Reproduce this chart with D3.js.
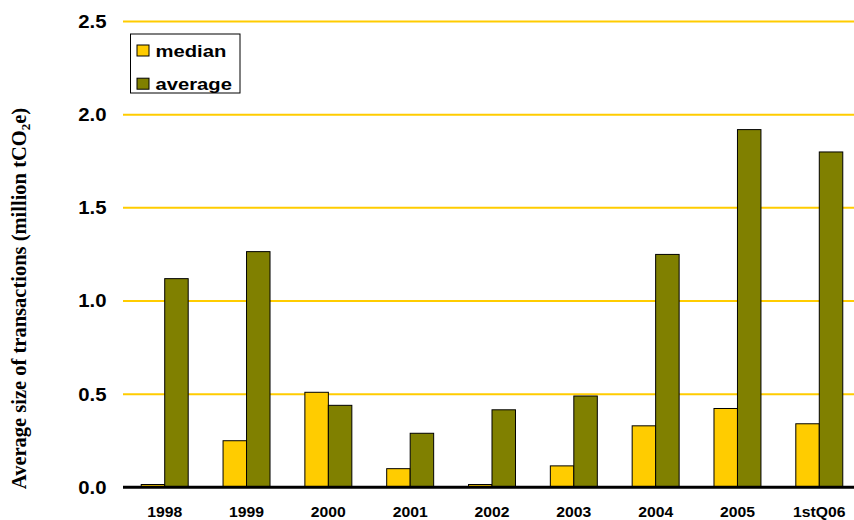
<!DOCTYPE html>
<html><head><meta charset="utf-8">
<script src="https://cdn.jsdelivr.net/npm/d3@7"></script>
<style>body{margin:0;background:#fff}svg{display:block}</style>
</head><body>
<svg id="c" width="854" height="520"></svg>
<script>
const categories = ["1998","1999","2000","2001","2002","2003","2004","2005","1stQ06"];
const medianValues = [0.015,0.25,0.51,0.10,0.015,0.115,0.33,0.423,0.341];
const averageValues = [1.12,1.265,0.44,0.29,0.416,0.49,1.25,1.92,1.80];
const seriesNames = ["median","average"];
const seriesColors = ["#FFCC00","#808000"];
const yTicks = [0,0.5,1.0,1.5,2.0,2.5];

const svg = d3.select("#c");
const x0 = d3.scaleBand().domain(categories).range([123.8,860.2]).padding(0);
const x1 = d3.scaleBand().domain(seriesNames).range([x0.bandwidth()*0.213, x0.bandwidth()*0.787]).padding(0);
const y = d3.scaleLinear().domain([0,2.5]).range([487.3,21.55]);

// gridlines
svg.append("g").selectAll("line").data(yTicks.filter(d=>d>0)).join("line")
  .attr("x1",123).attr("x2",854).attr("y1",d=>y(d)).attr("y2",d=>y(d))
  .attr("stroke","#FFCC00").attr("stroke-width",2);

// y tick labels
svg.append("g").selectAll("text").data(yTicks).join("text")
  .attr("transform",d=>`translate(106.5,${y(d)}) scale(1.1,1)`)
  .attr("dy","0.35em").attr("text-anchor","end")
  .attr("font-family","Liberation Sans, Arial, sans-serif").attr("font-weight","bold")
  .attr("font-size",18.5).text(d=>d3.format(".1f")(d));

// bars
const data = categories.map((c,i)=>({cat:c, vals:[medianValues[i],averageValues[i]]}));
const groups = svg.append("g").selectAll("g").data(data).join("g")
  .attr("transform",d=>`translate(${x0(d.cat)},0)`);
groups.selectAll("rect").data(d=>d.vals.map((v,j)=>({s:seriesNames[j],v,j}))).join("rect")
  .attr("x",d=>x1(d.s)).attr("width",x1.bandwidth())
  .attr("y",d=>y(d.v)).attr("height",d=>y(0)-y(d.v))
  .attr("fill",d=>seriesColors[d.j]).attr("stroke","#000").attr("stroke-width",1);

// x axis line
svg.append("line").attr("x1",123).attr("x2",854).attr("y1",y(0)).attr("y2",y(0))
  .attr("stroke","#000").attr("stroke-width",3);

// x labels
svg.append("g").selectAll("text").data(categories).join("text")
  .attr("transform",d=>`translate(${x0(d)+x0.bandwidth()/2},516.5) scale(1.05,1)`)
  .attr("text-anchor","middle")
  .attr("font-family","Liberation Sans, Arial, sans-serif").attr("font-weight","bold")
  .attr("font-size",15).text(d=>d);

// y title
const yt = svg.append("text").attr("transform","translate(26,298.5) rotate(-90)")
  .attr("text-anchor","middle").attr("font-family","Liberation Serif, Times New Roman, serif")
  .attr("font-weight","bold").attr("font-size",20.5);
yt.append("tspan").text("Average size of transactions (million tCO");
yt.append("tspan").attr("font-size",13).attr("dy",4).text("2");
yt.append("tspan").attr("dy",-4).text("e)");

// legend
const lg = svg.append("g");
lg.append("rect").attr("x",130.5).attr("y",34).attr("width",109.5).attr("height",59)
  .attr("fill","#fff").attr("stroke","#000").attr("stroke-width",1);
seriesNames.forEach((s,i)=>{
  const cy = 50.5 + i*33.2;
  lg.append("rect").attr("x",137).attr("y",cy-5.5).attr("width",12).attr("height",11)
    .attr("fill",seriesColors[i]).attr("stroke","#000").attr("stroke-width",1);
  lg.append("text").attr("transform",`translate(155.5,${cy+6.5}) scale(1.17,1)`)
    .attr("font-family","Liberation Sans, Arial, sans-serif").attr("font-weight","bold")
    .attr("font-size",17.3).text(s);
});
</script>
</body></html>
